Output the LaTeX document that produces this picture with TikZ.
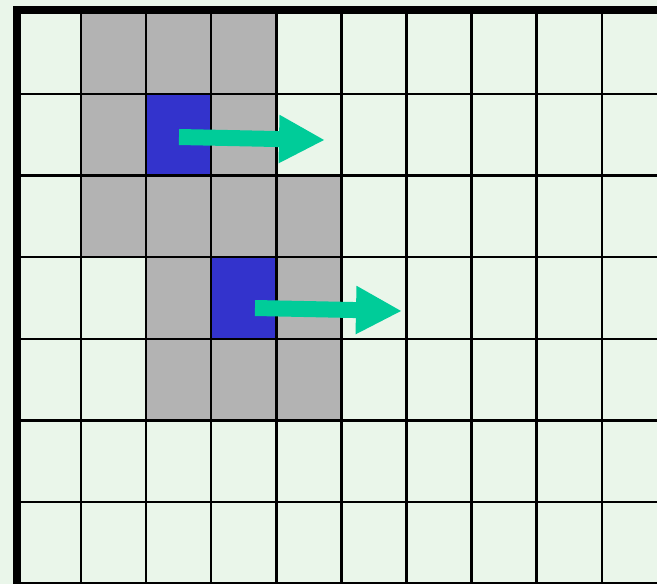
\documentclass[tikz,border=0pt]{standalone}
\usepackage{tikz}
\usetikzlibrary{arrows.meta}
\definecolor{floorgreen}{RGB}{234,246,234}
\definecolor{wallgray}{RGB}{179,179,179}
\definecolor{hotblue}{RGB}{51,51,204}
\definecolor{movegreen}{RGB}{0,204,153}

\begin{document}
\begin{tikzpicture}[x=1pt, y=-1pt,
  wall/.style={fill=wallgray},
  hot/.style={fill=hotblue, inner sep=0pt, minimum width=65.1pt,
              minimum height=81.6pt, anchor=north west},
  gridline/.style={black, line width=2.5pt},
  border/.style={black, line width=8pt, line join=miter},
  move/.style={movegreen, line width=16pt, -{Triangle[length=46pt, width=45pt]}}
]
\useasboundingbox (0,0) rectangle (657,584);
\clip (0,0) rectangle (657,584);
\fill[floorgreen] (0,0) rectangle (657,584);

% gray cells as column/row
\foreach \c/\r in {1/0,2/0,3/0,1/1,3/1,1/2,2/2,3/2,4/2,2/3,4/3,2/4,3/4,4/4}
  \fill[wall] (15.9+65.1*\c, 12.4+81.6*\r) rectangle (81+65.1*\c, 94+81.6*\r);

\node[hot] (hotA) at (146.1, 94) {};
\node[hot] (hotB) at (211.2, 257.2) {};

\foreach \i in {1,...,9}
  \draw[gridline] (15.9+65.1*\i, 10) -- (15.9+65.1*\i, 584);
\foreach \j in {1,...,7}
  \draw[gridline] (17, 12.4+81.6*\j) -- (657, 12.4+81.6*\j);
\draw[border] (17,584) -- (17,10) -- (657,10);

\coordinate (fromA) at (179,137);
\coordinate (toA) at (325,140);
\coordinate (fromB) at (255,308);
\coordinate (toB) at (402,311);
\draw[move] (fromA) -- (toA);
\draw[move] (fromB) -- (toB);
\end{tikzpicture}
\end{document}
